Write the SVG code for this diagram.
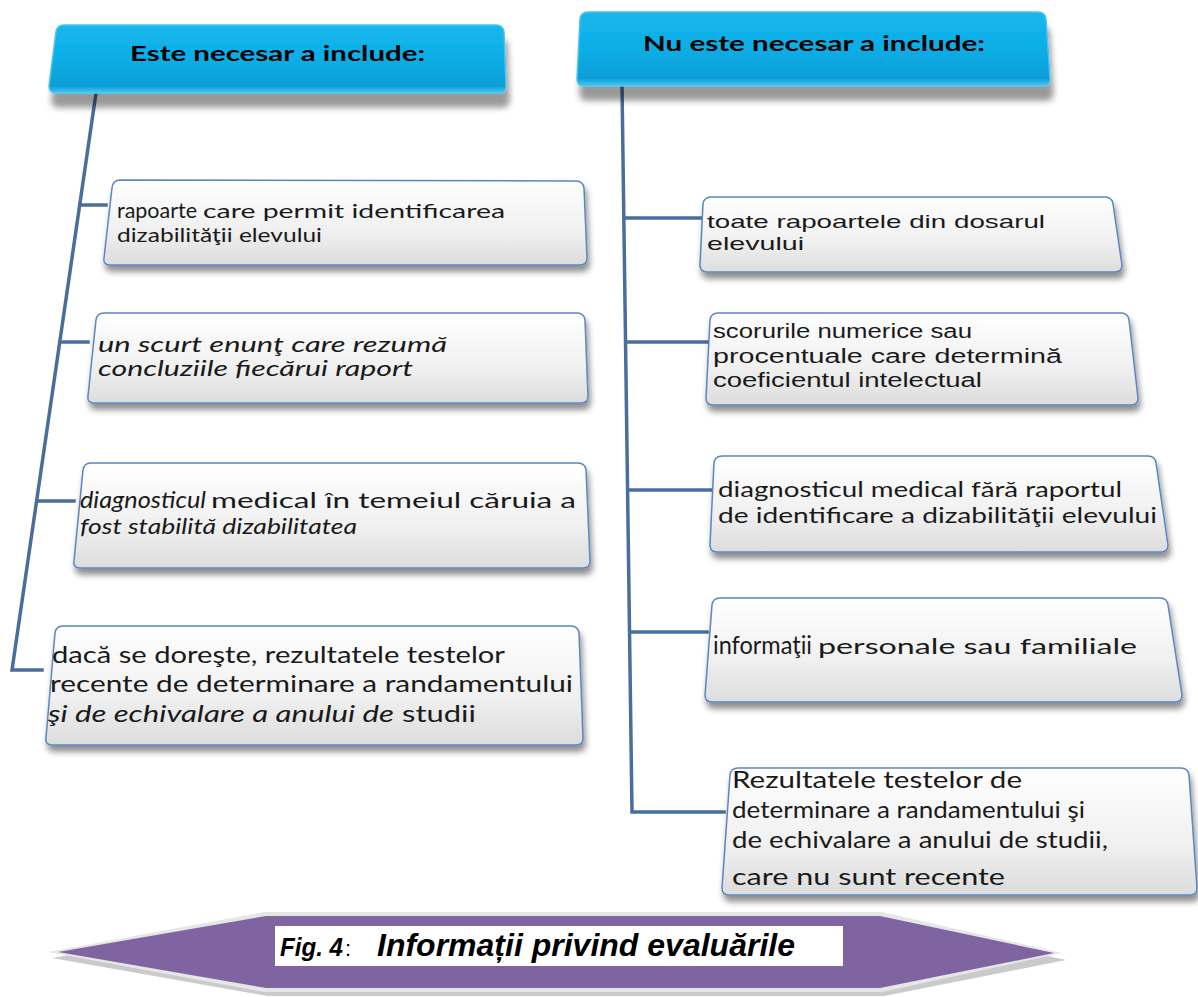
<svg xmlns="http://www.w3.org/2000/svg" width="1198" height="997" viewBox="0 0 1198 997">
<defs>
  <linearGradient id="boxg" x1="0" y1="0" x2="0" y2="1">
    <stop offset="0" stop-color="#ffffff"/>
    <stop offset="0.6" stop-color="#f0f0f0"/>
    <stop offset="1" stop-color="#dcdcdc"/>
  </linearGradient>
  <linearGradient id="headg" x1="0" y1="0" x2="0" y2="1">
    <stop offset="0" stop-color="#1ab7ee"/>
    <stop offset="0.5" stop-color="#0aade6"/>
    <stop offset="0.9" stop-color="#0a9fd8"/>
    <stop offset="1" stop-color="#4fc8f2"/>
  </linearGradient>
  <filter id="sh" x="-10%" y="-20%" width="120%" height="160%">
    <feGaussianBlur in="SourceAlpha" stdDeviation="3"/>
    <feOffset dx="2" dy="6" result="b"/>
    <feComponentTransfer><feFuncA type="linear" slope="0.45"/></feComponentTransfer>
    <feMerge><feMergeNode/><feMergeNode in="SourceGraphic"/></feMerge>
  </filter>
  <filter id="hsh" x="-10%" y="-20%" width="120%" height="180%">
    <feGaussianBlur in="SourceAlpha" stdDeviation="3"/>
    <feOffset dx="3" dy="14" result="b"/>
    <feComponentTransfer><feFuncA type="linear" slope="0.4"/></feComponentTransfer>
    <feMerge><feMergeNode/><feMergeNode in="SourceGraphic"/></feMerge>
  </filter>
</defs>
<style>
  .box{fill:url(#boxg);stroke:#5b86c0;stroke-width:1.5;filter:url(#sh)}
  .head{fill:url(#headg);stroke:#4cc3ee;stroke-width:1.5;filter:url(#hsh)}
  .conn{fill:none;stroke:#4a6e9c;stroke-width:3.5;stroke-linecap:square}
  .ht{font-family:Lato,"Open Sans",sans-serif;font-weight:bold;font-size:20px;fill:#000}
  .tl{font-family:Lato,"Open Sans",sans-serif;fill:#1a1a1a}
  .ta{font-family:"Liberation Sans",Arial,sans-serif;fill:#1a1a1a}
  .it{font-style:italic}
</style>
<rect width="1198" height="997" fill="#ffffff"/>

<g id="connectors">
  <path class="conn" d="M96,93 L12,670 L42,670"/>
  <path class="conn" d="M80,205 L106,205"/>
  <path class="conn" d="M60,342 L88,342"/>
  <path class="conn" d="M37,501 L74,501"/>
  <path class="conn" d="M622,85 L632,812 L724,812"/>
  <path class="conn" d="M624,218 L702,218"/>
  <path class="conn" d="M626,342 L708,342"/>
  <path class="conn" d="M628,490 L712,490"/>
  <path class="conn" d="M630,632 L707,632"/>
</g>

<g id="header-left">
  <path class="head" d="M64,25 L496,25 Q503,25 504,32 L506,86 Q506,93 499,93 L56,93 Q49,93 49,86 L56,32 Q57,25 64,25 Z"/>
  <text class="ht" x="130" y="61" textLength="295" lengthAdjust="spacingAndGlyphs">Este necesar a include:</text>
</g>
<g id="header-right">
  <path class="head" d="M588,12 L1038,12 Q1045,12 1046,19 L1050,79 Q1050,86 1043,86 L584,86 Q577,86 577,79 L580,19 Q581,12 588,12 Z"/>
  <text class="ht" x="643" y="51" textLength="342" lengthAdjust="spacingAndGlyphs">Nu este necesar a include:</text>
</g>

<g id="box-l1">
  <path class="box" d="M120,180 L576,181 Q583,181 584,188 L587,258 Q587,265 580,265 L110,265 Q103,265 104,258 L112,188 Q113,180 120,180 Z"/>
  <text class="tl" y="218"><tspan x="117" font-size="21" textLength="80" lengthAdjust="spacingAndGlyphs">rapoarte</tspan><tspan x="203" font-size="19" textLength="302" lengthAdjust="spacingAndGlyphs">care permit identificarea</tspan></text>
  <text class="tl" x="117" y="242" font-size="20" textLength="205" lengthAdjust="spacingAndGlyphs">dizabilităţii elevului</text>
</g>
<g id="box-l2">
  <path class="box" d="M104,313 L577,313 Q584,313 585,320 L588,396 Q588,403 581,403 L94,403 Q87,403 88,396 L96,320 Q97,313 104,313 Z"/>
  <text class="tl it" x="98" y="352" font-size="21" textLength="349" lengthAdjust="spacingAndGlyphs">un scurt enunţ care rezumă</text>
  <text class="tl it" x="98" y="376" font-size="21" textLength="315" lengthAdjust="spacingAndGlyphs">concluziile fiecărui raport</text>
</g>
<g id="box-l3">
  <path class="box" d="M91,463 L578,463 Q585,463 586,470 L590,561 Q590,568 583,568 L80,568 Q73,568 74,561 L83,470 Q84,463 91,463 Z"/>
  <text class="tl" y="508"><tspan class="it" x="80" font-size="24" textLength="126" lengthAdjust="spacingAndGlyphs">diagnosticul</tspan><tspan x="211" font-size="22" textLength="365" lengthAdjust="spacingAndGlyphs">medical în temeiul căruia a</tspan></text>
  <text class="tl it" x="80" y="534" font-size="22" textLength="277" lengthAdjust="spacingAndGlyphs">fost stabilită dizabilitatea</text>
</g>
<g id="box-l4">
  <path class="box" d="M63,626 L571,626 Q578,626 579,633 L583,738 Q583,745 576,745 L52,745 Q45,745 46,738 L55,633 Q56,626 63,626 Z"/>
  <text class="tl" x="52" y="663" font-size="24" textLength="453" lengthAdjust="spacingAndGlyphs">dacă se doreşte, rezultatele testelor</text>
  <text class="tl" x="50" y="692" font-size="24" textLength="523" lengthAdjust="spacingAndGlyphs">recente de determinare a randamentului</text>
  <text class="tl" y="722" font-size="24"><tspan class="it" x="48" textLength="346" lengthAdjust="spacingAndGlyphs">şi de echivalare a anului de</tspan><tspan x="402" textLength="74" lengthAdjust="spacingAndGlyphs">studii</tspan></text>
</g>

<g id="box-r1">
  <path class="box" d="M711,197 L1105,197 Q1112,197 1113,204 L1122,265 Q1122,272 1115,272 L707,272 Q700,272 700,265 L703,204 Q704,197 711,197 Z"/>
  <text class="ta" x="707" y="228" font-size="19" textLength="338" lengthAdjust="spacingAndGlyphs">toate rapoartele din dosarul</text>
  <text class="ta" x="707" y="250" font-size="19" textLength="97" lengthAdjust="spacingAndGlyphs">elevului</text>
</g>
<g id="box-r2">
  <path class="box" d="M718,313 L1121,313 Q1128,313 1129,320 L1138,398 Q1138,405 1131,405 L713,405 Q706,405 706,398 L710,320 Q711,313 718,313 Z"/>
  <text class="ta" x="713" y="338" font-size="20" textLength="259" lengthAdjust="spacingAndGlyphs">scorurile numerice sau</text>
  <text class="ta" x="713" y="363" font-size="20" textLength="349" lengthAdjust="spacingAndGlyphs">procentuale care determină</text>
  <text class="ta" x="713" y="387" font-size="20" textLength="269" lengthAdjust="spacingAndGlyphs">coeficientul intelectual</text>
</g>
<g id="box-r3">
  <path class="box" d="M722,456 L1148,456 Q1155,456 1156,463 L1168,545 Q1168,552 1161,552 L717,552 Q710,552 710,545 L714,463 Q715,456 722,456 Z"/>
  <text class="tl" x="718" y="497" font-size="21" textLength="404" lengthAdjust="spacingAndGlyphs">diagnosticul medical fără raportul</text>
  <text class="tl" x="718" y="523" font-size="21" textLength="439" lengthAdjust="spacingAndGlyphs">de identificare a dizabilităţii elevului</text>
</g>
<g id="box-r4">
  <path class="box" d="M720,598 L1160,598 Q1167,598 1168,605 L1182,695 Q1182,702 1175,702 L712,702 Q705,702 705,695 L712,605 Q713,598 720,598 Z"/>
  <text class="tl" y="654"><tspan x="713" font-size="25" textLength="99" lengthAdjust="spacingAndGlyphs">informaţii</tspan><tspan x="818" font-size="21" textLength="319" lengthAdjust="spacingAndGlyphs">personale sau familiale</tspan></text>
</g>
<g id="box-r5">
  <path class="box" d="M738,768 L1181,768 Q1188,768 1189,775 L1197,888 Q1197,895 1190,895 L729,895 Q722,895 722,888 L730,775 Q731,768 738,768 Z"/>
  <text class="tl" x="732" y="788" font-size="24" textLength="290" lengthAdjust="spacingAndGlyphs">Rezultatele testelor de</text>
  <text class="tl" x="732" y="818" font-size="24" textLength="353" lengthAdjust="spacingAndGlyphs">determinare a randamentului şi</text>
  <text class="tl" x="732" y="848" font-size="24" textLength="376" lengthAdjust="spacingAndGlyphs">de echivalare a anului de studii,</text>
  <text class="tl" x="732" y="885" font-size="24" textLength="273" lengthAdjust="spacingAndGlyphs">care nu sunt recente</text>
</g>

<g id="caption">
  <polygon points="52,958 268,920 884,920 1066,960 884,996 268,996" fill="#bdbdbd" opacity="0.8"/>
  <polygon points="48,952 264,912 882,912 1062,953 882,992 264,992" fill="#e6e6e6"/>
  <polygon points="58,952 266,916 880,916 1054,953 880,988 266,988" fill="#8064a2"/>
  <rect x="275" y="926" width="568" height="40" fill="#ffffff"/>
  <text y="956" font-family="'Liberation Sans',Arial,sans-serif" font-style="italic" font-weight="bold" fill="#000"><tspan x="280" font-size="25" textLength="63" lengthAdjust="spacingAndGlyphs">Fig. 4</tspan><tspan x="345" font-size="22" font-weight="normal" font-style="normal">:</tspan><tspan x="377" font-size="31" textLength="418" lengthAdjust="spacingAndGlyphs">Informații privind evaluările</tspan></text>
</g>
</svg>
